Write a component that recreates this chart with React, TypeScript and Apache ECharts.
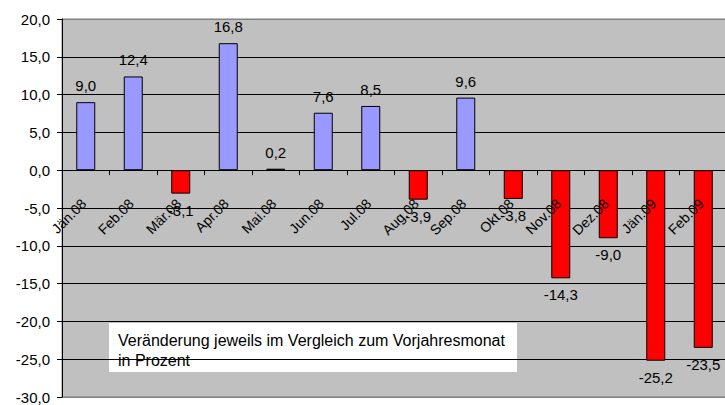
import React, { useEffect, useRef } from "react";
import * as echarts from "echarts";

const categories = [
  "Jän.08", "Feb.08", "Mär.08", "Apr.08", "Mai.08", "Jun.08", "Jul.08",
  "Aug.08", "Sep.08", "Okt.08", "Nov.08", "Dez.08", "Jän.09", "Feb.09",
];
const values = [9.0, 12.4, -3.1, 16.8, 0.2, 7.6, 8.5, -3.9, 9.6, -3.8, -14.3, -9.0, -25.2, -23.5];
const noteLines = ["Veränderung jeweils im Vergleich zum Vorjahresmonat", "in Prozent"];

const FONT = "'Liberation Sans', Arial, sans-serif";
const fmt = (v: number) => v.toFixed(1).replace(".", ",");

const Y_MIN = -30;
const Y_MAX = 20;
const GRID_TOP = 19;
const GRID_H = 378;

export default function App() {
  const ref = useRef<HTMLDivElement>(null);
  useEffect(() => {
    if (!ref.current) return;
    const chart = echarts.init(ref.current, undefined, { renderer: "svg" });
    const splitColors = ["#808080", "#000", "#000", "#000", "#000", "#000", "#000", "#000", "#000", "#000", "#808080"];
    // offset that lifts the bottom x axis up to the zero line
    const zeroOffset = -((0 - Y_MIN) / (Y_MAX - Y_MIN)) * GRID_H;
    chart.setOption({
      animation: false,
      backgroundColor: "#ffffff",
      grid: {
        left: 62,
        top: GRID_TOP,
        width: 665,
        height: GRID_H,
        containLabel: false,
        outerBoundsMode: "none",
        show: true,
        backgroundColor: "#C0C0C0",
        borderColor: "#808080",
        borderWidth: 1,
      },
      xAxis: {
        type: "category",
        data: categories,
        position: "bottom",
        offset: zeroOffset,
        axisLine: { show: true, onZero: false, lineStyle: { color: "#000", width: 1 } },
        axisTick: { show: true, length: 5, interval: 0, lineStyle: { color: "#000" } },
        axisLabel: {
          interval: 0,
          rotate: 45,
          margin: 19,
          align: "right",
          verticalAlign: "top",
          formatter: (v: string) => `{l|${v}}`,
          rich: {
            l: {
              padding: [0, 10, 0, 0],
              color: "#000",
              fontSize: 14,
              fontFamily: FONT,
            },
          },
          color: "#000",
          fontSize: 14,
          fontFamily: FONT,
          hideOverlap: false,
        },
        splitLine: { show: false },
        z: 10,
      },
      yAxis: {
        type: "value",
        min: Y_MIN,
        max: Y_MAX,
        interval: 5,
        axisLine: { show: true, lineStyle: { color: "#000", width: 1 } },
        axisTick: { show: true, length: 5, lineStyle: { color: "#000" } },
        axisLabel: {
          formatter: (v: number) => fmt(v),
          color: "#000",
          fontSize: 15,
          fontFamily: FONT,
          margin: 12,
        },
        splitLine: { show: true, lineStyle: { color: splitColors, width: 1 } },
      },
      series: [
        {
          type: "bar",
          barWidth: 19,
          data: values.map((v) => ({
            value: v,
            itemStyle: { color: v >= 0 ? "#9999FF" : "#FF0000", borderColor: "#000", borderWidth: 1 },
            label: { position: v >= 0 ? "top" : "bottom" },
          })),
          label: {
            show: true,
            distance: 9,
            formatter: (p: any) => fmt(p.value),
            color: "#000",
            fontSize: 15,
            fontFamily: FONT,
          },
          z: 2,
        },
      ],
      graphic: [
        {
          type: "group",
          z: 100,
          children: [
            {
              type: "rect",
              shape: { x: 109, y: 323, width: 408, height: 49 },
              style: { fill: "#ffffff" },
            },
            {
              type: "text",
              x: 118,
              y: 330,
              style: {
                text: noteLines.join("\n"),
                fill: "#000",
                fontSize: 16,
                fontFamily: FONT,
                lineHeight: 20,
                verticalAlign: "top",
                align: "left",
              },
            },
          ],
        },
      ],
    });
    return () => chart.dispose();
  }, []);
  return (
    <div
      ref={ref}
      style={{ position: "fixed", left: 0, top: 0, width: 725, height: 405, background: "#fff" }}
    />
  );
}
